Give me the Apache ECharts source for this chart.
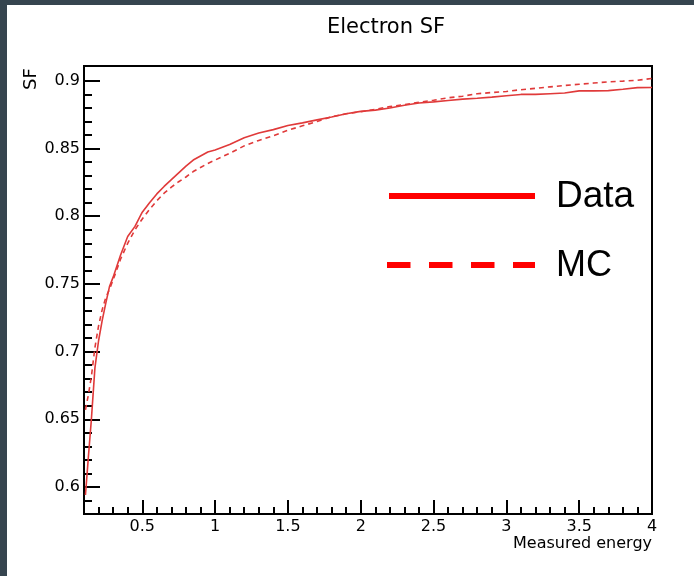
<!DOCTYPE html>
<html>
<head>
<meta charset="utf-8">
<script src="https://cdn.jsdelivr.net/npm/echarts@6/dist/echarts.min.js"></script>
<style>
  html, body { margin: 0; padding: 0; background: #ffffff; }
  #chart { width: 694px; height: 576px; }
</style>
</head>
<body>
<div id="chart"></div>
<script>
// Measured energy sampling points
const energy = [0.11, 0.13, 0.15, 0.175, 0.2, 0.225, 0.25, 0.275, 0.3, 0.35, 0.4, 0.45, 0.5, 0.55, 0.6, 0.65, 0.7, 0.75, 0.8, 0.85, 0.9, 0.95, 1.0,
  1.1, 1.2, 1.3, 1.4, 1.5, 1.6, 1.7, 1.8, 1.9, 2.0, 2.1, 2.2, 2.3, 2.4, 2.5, 2.6, 2.7, 2.8, 2.9, 3.0,
  3.1, 3.2, 3.3, 3.4, 3.5, 3.6, 3.7, 3.8, 3.9, 4.0];

// Sampling fraction, data
const sfData = [0.594, 0.622, 0.649, 0.688, 0.708, 0.723, 0.736, 0.748, 0.755, 0.771, 0.785, 0.7925, 0.803, 0.810, 0.8165, 0.822, 0.827, 0.832, 0.837, 0.8415, 0.8445, 0.8475, 0.849,
  0.853, 0.858, 0.8615, 0.864, 0.867, 0.869, 0.8712, 0.8733, 0.8757, 0.8775, 0.8784, 0.880, 0.882, 0.8837, 0.8845, 0.8855, 0.8865, 0.8872, 0.888, 0.889,
  0.890, 0.890, 0.8905, 0.891, 0.8926, 0.8926, 0.8928, 0.8938, 0.895, 0.8951];

// Sampling fraction, simulation
const sfMC = [0.657, 0.668, 0.681, 0.703, 0.719, 0.731, 0.740, 0.746, 0.753, 0.768, 0.780, 0.790, 0.798, 0.805, 0.8115, 0.817, 0.8215, 0.8255, 0.829, 0.833, 0.836, 0.839, 0.8415,
  0.8465, 0.852, 0.856, 0.8595, 0.8635, 0.8668, 0.870, 0.8735, 0.8757, 0.8772, 0.879, 0.881, 0.8825, 0.8842, 0.8857, 0.8875, 0.8887, 0.8905, 0.8914, 0.8922,
  0.8935, 0.8945, 0.8956, 0.8966, 0.8975, 0.8984, 0.8993, 0.8998, 0.9005, 0.9018];

// Axis tick positions
const xMajorTicks = [0.5, 1, 1.5, 2, 2.5, 3, 3.5, 4];
const xMinorTicks = [0.2, 0.3, 0.4, 0.6, 0.7, 0.8, 0.9, 1.1, 1.2, 1.3, 1.4, 1.6, 1.7, 1.8, 1.9,
  2.1, 2.2, 2.3, 2.4, 2.6, 2.7, 2.8, 2.9, 3.1, 3.2, 3.3, 3.4, 3.6, 3.7, 3.8, 3.9];
const yMajorTicks = [0.6, 0.65, 0.7, 0.75, 0.8, 0.85, 0.9];
const yMinorTicks = [0.59, 0.61, 0.62, 0.63, 0.64, 0.66, 0.67, 0.68, 0.69, 0.71, 0.72, 0.73, 0.74,
  0.76, 0.77, 0.78, 0.79, 0.81, 0.82, 0.83, 0.84, 0.86, 0.87, 0.88, 0.89];

const seriesNames = ['Data', 'MC'];

const AXIS_FONT = 'DejaVu Sans';
const LEGEND_FONT = 'Liberation Sans';
const CURVE_COLOR = '#e03a3a';
const LEGEND_COLOR = '#ff0000';
const BAND_COLOR = '#36454f';

const xMin = 0.1, xMax = 4, yMin = 0.58, yMax = 0.911;

const chart = echarts.init(document.getElementById('chart'), null, { renderer: 'canvas' });

const pairs = (ys) => energy.map((e, i) => [e, ys[i]]);

const baseX = {
  type: 'value', position: 'bottom', min: xMin, max: xMax, splitLine: { show: false }
};
const baseY = {
  type: 'value', position: 'left', min: yMin, max: yMax, splitLine: { show: false }
};

chart.setOption({
  animation: false,
  backgroundColor: '#ffffff',
  grid: {
    left: 84, right: 42, top: 66, bottom: 62,
    show: true, borderColor: '#000', borderWidth: 2, backgroundColor: 'transparent'
  },
  xAxis: [
    Object.assign({}, baseX, {
      axisLine: { show: true, onZero: false, lineStyle: { color: '#000', width: 2 } },
      axisTick: { show: true, inside: true, length: 14, customValues: xMajorTicks, lineStyle: { color: '#000', width: 2 } },
      axisLabel: { show: true, customValues: xMajorTicks, margin: 5, color: '#000', fontFamily: AXIS_FONT, fontSize: 16 }
    }),
    Object.assign({}, baseX, {
      axisLine: { show: false, onZero: false },
      axisTick: { show: true, inside: true, length: 7, customValues: xMinorTicks, lineStyle: { color: '#000', width: 2 } },
      axisLabel: { show: false }
    })
  ],
  yAxis: [
    Object.assign({}, baseY, {
      axisLine: { show: true, onZero: false, lineStyle: { color: '#000', width: 2 } },
      axisTick: { show: true, inside: true, length: 16, customValues: yMajorTicks, lineStyle: { color: '#000', width: 2 } },
      axisLabel: { show: true, customValues: yMajorTicks, margin: 4, color: '#000', fontFamily: AXIS_FONT, fontSize: 16 }
    }),
    Object.assign({}, baseY, {
      axisLine: { show: false, onZero: false },
      axisTick: { show: true, inside: true, length: 8, customValues: yMinorTicks, lineStyle: { color: '#000', width: 2 } },
      axisLabel: { show: false }
    })
  ],
  series: [
    {
      name: seriesNames[0], type: 'line', xAxisIndex: 0, yAxisIndex: 0,
      data: pairs(sfData), showSymbol: false, symbol: 'none',
      lineStyle: { color: CURVE_COLOR, width: 1.6 }
    },
    {
      name: seriesNames[1], type: 'line', xAxisIndex: 0, yAxisIndex: 0,
      data: pairs(sfMC), showSymbol: false, symbol: 'none',
      lineStyle: { color: CURVE_COLOR, width: 1.6, type: [5, 4] }
    }
  ],
  graphic: [
    // frame bands along the top and left edges
    { type: 'rect', shape: { x: 0, y: 0, width: 694, height: 5 }, style: { fill: BAND_COLOR }, z: 100 },
    { type: 'rect', shape: { x: 0, y: 0, width: 7, height: 576 }, style: { fill: BAND_COLOR }, z: 100 },
    // title and axis titles
    { type: 'text', x: 386, y: 28, style: { text: 'Electron SF', fontFamily: AXIS_FONT, fontSize: 21, fill: '#000', align: 'center', verticalAlign: 'middle' } },
    { type: 'text', x: 652, y: 544, style: { text: 'Measured energy', fontFamily: AXIS_FONT, fontSize: 16, fill: '#000', align: 'right', verticalAlign: 'middle' } },
    { type: 'text', x: 31, y: 79, rotation: Math.PI / 2, style: { text: 'SF', fontFamily: AXIS_FONT, fontSize: 18, fill: '#000', align: 'center', verticalAlign: 'middle' } },
    // key
    { type: 'line', shape: { x1: 389, y1: 196, x2: 535, y2: 196 }, style: { stroke: LEGEND_COLOR, lineWidth: 6 } },
    { type: 'line', shape: { x1: 387, y1: 265, x2: 535, y2: 265 }, style: { stroke: LEGEND_COLOR, lineWidth: 6, lineDash: [23.5, 18.5] } },
    { type: 'text', x: 556, y: 197, style: { text: seriesNames[0], fontFamily: LEGEND_FONT, fontSize: 37, fill: '#000', align: 'left', verticalAlign: 'middle' } },
    { type: 'text', x: 556, y: 266, style: { text: seriesNames[1], fontFamily: LEGEND_FONT, fontSize: 36, fill: '#000', align: 'left', verticalAlign: 'middle' } }
  ]
});
</script>
</body>
</html>
